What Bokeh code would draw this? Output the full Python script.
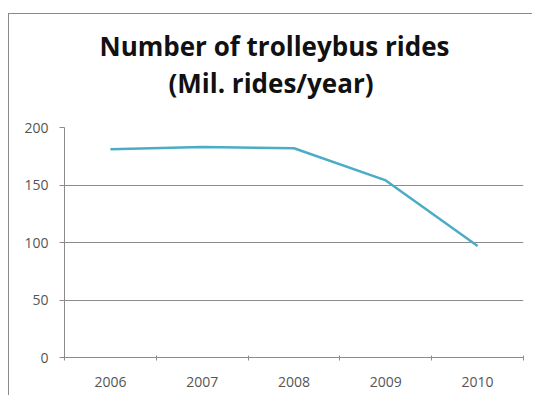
from bokeh.plotting import figure
from bokeh.models import FixedTicker, ColumnDataSource, Title
from bokeh.embed import file_html
from bokeh.resources import INLINE

years = ["2006", "2007", "2008", "2009", "2010"]
rides = [181, 183, 182, 154, 97]
y_ticks = [0, 50, 100, 150, 200]
title_lines = ["Number of trolleybus rides", "(Mil. rides/year)"]

n = len(years)
centers = [i + 0.5 for i in range(n)]
bounds = [float(i) for i in range(n + 1)]

src = ColumnDataSource(dict(x=centers, y=rides))

p = figure(width=524, height=382, output_backend="svg", toolbar_location=None,
           x_range=(0, n), y_range=(0, 200),
           min_border_left=55, min_border_top=113, min_border_right=10, min_border_bottom=39)
p.margin = (13, 0, 0, 8)
p.styles = {"border-left": "1px solid #8a8a8a", "border-top": "1px solid #8a8a8a"}
p.outline_line_color = None
p.background_fill_color = "white"
p.border_fill_color = "white"
p.title = None

p.line("x", "y", source=src, line_color="#4BACC6", line_width=2.5)

font = "Open Sans"
# trailing empty line keeps a gap between the title block and the frame
p.add_layout(Title(text=title_lines[1] + "\n", align="left", offset=104, standoff=0,
                   text_font=font, text_font_size="26px", text_font_style="bold",
                   text_line_height=0.73, text_color="#111111"), "above")
p.add_layout(Title(text=title_lines[0], align="left", offset=35, standoff=0,
                   text_font=font, text_font_size="26px", text_font_style="bold",
                   text_color="#111111"), "above")

p.xgrid.grid_line_color = None
p.ygrid.grid_line_color = "#8c8c8c"
p.ygrid.grid_line_width = 1
p.yaxis.ticker = FixedTicker(ticks=y_ticks)

xa = p.below[0]
xa.ticker = FixedTicker(ticks=centers, minor_ticks=bounds)
xa.major_label_overrides = {c: y for c, y in zip(centers, years)}

for ax in (xa, p.yaxis[0]):
    ax.axis_line_color = "#8c8c8c"
    ax.major_label_text_font = font
    ax.major_label_text_font_size = "14px"
    ax.major_label_text_color = "#555555"

p.yaxis.major_tick_line_color = "#8c8c8c"
p.yaxis.major_tick_out = 5
p.yaxis.major_tick_in = 0
p.yaxis.minor_tick_line_color = None
p.yaxis.major_label_standoff = 11

xa.major_tick_line_color = None
xa.minor_tick_line_color = "#8c8c8c"
xa.minor_tick_out = 3
xa.minor_tick_in = 2
xa.major_label_standoff = 13

open("out.html", "w").write(file_html(p, INLINE))
